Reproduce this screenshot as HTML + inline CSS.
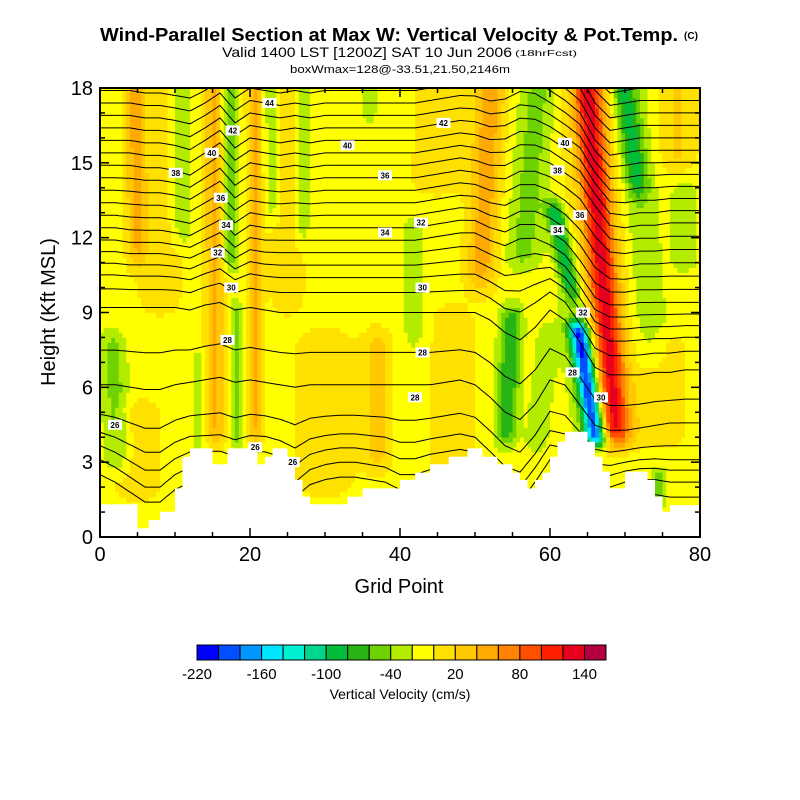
<!DOCTYPE html>
<html><head><meta charset="utf-8"><style>
html,body{margin:0;padding:0;background:#fff;}
svg{display:block;font-family:"Liberation Sans",Arial,sans-serif;}
</style></head><body>
<svg id="chart" width="800" height="800" viewBox="0 0 800 800" xmlns="http://www.w3.org/2000/svg">
<rect width="800" height="800" fill="#fff"/>
<text x="389" y="41" text-anchor="middle" font-size="18" font-weight="bold" textLength="578" lengthAdjust="spacingAndGlyphs">Wind-Parallel Section at Max W: Vertical Velocity &amp; Pot.Temp.</text>
<text x="691" y="39" text-anchor="middle" font-size="10" font-weight="bold">(C)</text>
<text x="367" y="57" text-anchor="middle" font-size="14" textLength="290" lengthAdjust="spacingAndGlyphs">Valid 1400 LST [1200Z] SAT 10 Jun 2006</text>
<text x="546" y="56" text-anchor="middle" font-size="8" textLength="62" lengthAdjust="spacingAndGlyphs">(18hrFcst)</text>
<text x="400" y="73" text-anchor="middle" font-size="11" textLength="220" lengthAdjust="spacingAndGlyphs">boxWmax=128@-33.51,21.50,2146m</text>
<defs><clipPath id="plotClip"><rect x="100" y="88" width="600" height="449"/></clipPath></defs>
<g id="field" clip-path="url(#plotClip)"></g>
<g id="contours" clip-path="url(#plotClip)"></g>
<g id="terrain"></g>
<g id="clabels"></g>
<g id="axes"></g>
<g id="cbar"></g>
</svg>
<script>
// ---- data ----
const colorLevels = ['#0000ff','#0050ff','#0096ff','#00e6ff','#00f0d2','#00d78c','#00be3c','#28b414','#6ed200','#b4ec00','#ffff00','#ffe100','#ffc800','#ffaa00','#ff8200','#ff5000','#ff2000','#e6001e','#b40040'];
const cbarTickValues = [-220,-160,-100,-40,20,80,140];
const xTickValues = [0,20,40,60,80];
const yTickValues = [0,3,6,9,12,15,18];
const baseW = -8;
// tilted velocity bands: x at y0, x at y1, amplitude (cm/s), half-width (grid), taper (kft)
const featX0 = [2.5,5,5,8,11,15.5,17.5,18.5,20.7,23,25,27,13,30,37,42,36,47,45,50.5,56,54,58,66.5,63.5,66,69,69,72.2,74,78,75,74.5,77];
const featY0 = [2,1,10,8,11,3,10,3,3,12,8,11,3,1,2,7,16,1,13,9,10,3,3,3.3,9,3.3,3,3,13,6,10,3,1,14];
const featX1 = [1.5,5,4.5,8,10.5,15,17.3,18,20.5,22.8,25,27.2,13,30,37,41.5,36,47,46,52.5,59,55,60,63.5,60,63,64.5,64.5,68.8,70,78,75,74.5,77];
const featY1 = [9,6,20,20,20,20,20,10,20,20,20,20,8,9,9,13.5,20,10,20,20,20,10,9,9,14,10,20,20,20,20,15,9,3,20];
const featAmp = [-40,20,50,20,-30,50,-55,-35,50,-30,20,-30,-28,22,35,-32,-25,20,18,60,-40,-70,-30,-170,-90,-40,95,45,-55,-30,-30,25,-35,30];
const featW = [1.8,3,1.3,3,1.5,1.3,1.0,0.9,1.0,1.0,2.4,1.0,0.8,4,1.8,1.3,0.9,3,4,2.0,2.4,1.5,1.5,1.3,1.3,2.4,1.8,3.2,1.5,2.4,1.8,3,1.0,2.4];
const featTaper = [1.5,1,2,2,1.5,1.5,1.5,1,1.5,1.5,2,1.5,1,1.5,1.5,1.5,1,1.5,1.5,2,1.5,1.5,1,0.8,1.2,1,1.5,1.5,1.5,1.5,1.5,1.5,0.5,1.5];
// terrain steps (grid start, kft)
const terrainX = [0,5,6.5,8,10,11,12,15,17,21,22,23,25,26,27,28,33,35,40,42,44,46.5,49,51,53,55,56,57,58,59,60,61,62,65,66,67,68,70,73,74,75,76];
const terrainH = [1.31,0.35,0.68,1.01,1.95,3.22,3.55,2.92,3.55,2.92,3.22,3.55,3.22,2.29,1.62,1.31,1.62,1.95,2.29,2.58,2.92,3.22,3.55,3.22,2.92,2.58,2.29,1.95,2.29,2.58,3.22,3.82,4.22,3.82,3.22,2.62,1.95,2.62,2.29,1.62,1.01,1.28];
// potential temperature contours: base heights (kft) and displacement table (cols every 2 grid pts)
const thetaBase = [2.2,2.8,3.4,4.0,4.8,6.1,7.4,9.0,9.8,10.4,10.9,11.4,11.9,12.4,12.9,13.4,13.9,14.4,14.9,15.4,15.9,16.4,16.9,17.4,17.9,18.4,18.9,19.4,19.9,20.4,20.9];
const dispRowHeights = [0,3,6,9,12,15,18,21];
const disp3 = [0.3,0,-0.4,-0.8,-0.8,-0.3,0,0,0,-0.2,0,0,-0.2,-0.6,-0.1,0.1,0.2,0.2,0.1,0,-0.3,-0.3,-0.1,0,0.1,0,-0.6,-1.2,-1.4,-0.6,0.3,0.2,-0.3,-0.8,-0.8,-0.6,-0.5,-0.5,-0.6,-0.6,-0.6];
const disp6 = [0,0,-0.1,-0.2,-0.2,0,0.1,0.2,0.3,0.1,0.2,0.1,0,-0.1,0,0,0,0,0,0,0,0,0,0.1,0.2,0,-0.5,-1.1,-1.4,-0.8,0.2,0,-0.8,-1.6,-1.8,-1.8,-1.7,-1.6,-1.5,-1.5,-1.5];
const disp9 = [0.2,0.2,0.2,0.2,0.2,0.2,0.1,0.3,0.4,0.1,0.2,0.1,0,0,0,0,0,0,0,0,0,0,0,0,0,0,-0.3,-0.8,-1.1,-0.6,0.1,-0.3,-1.2,-2.2,-2.5,-2.5,-2.5,-2.4,-2.4,-2.3,-2.3];
const disp12 = [0,0,-0.1,-0.1,-0.1,-0.2,-0.3,0,0.3,-0.3,0.1,0,0,0,0,0,0,0,0,0,0,0,0.1,0.2,0.3,0.3,0,-0.2,0.1,0.1,-0.2,-0.6,-1.4,-2.3,-2.6,-2.6,-2.5,-2.5,-2.5,-2.5,-2.5];
const disp15 = [0,0,0,-0.1,-0.1,-0.2,-0.4,0,0.4,-0.3,0.1,0,-0.1,0,-0.1,0,0,0,0,0,0,0,0.1,0.2,0.3,0.2,0,0,0.3,0.3,0.1,-0.3,-0.7,-1.6,-2.4,-2.5,-2.4,-2.4,-2.3,-2.3,-2.3];
const disp18 = [0,0,0,-0.1,-0.1,-0.2,-0.3,0,0.4,-0.3,0.1,0,-0.1,0,-0.1,0,0,0,0,0,0,0,0.1,0.2,0.3,0.3,0.1,0.2,0.5,0.4,0,-0.4,-0.9,-2.0,-2.6,-2.5,-2.4,-2.4,-2.4,-2.4,-2.4];
const contourLabelText = ['44','42','40','38','36','34','32','30','28','26','26','26','42','40','36','34','32','30','28','28','40','38','36','34','32','28','30'];
const contourLabelGX = [22.6,17.7,14.9,10.1,16.1,16.8,15.7,17.5,17,2,20.7,25.7,45.8,33,38,38,42.8,43,43,42,62,61,64,61,64.4,63,66.8];
const contourLabelH = [17.4,16.3,15.4,14.6,13.6,12.5,11.4,10.0,7.9,4.5,3.6,3.0,16.6,15.7,14.5,12.2,12.6,10.0,7.4,5.6,15.8,14.7,12.9,12.3,9.0,6.6,5.6];

// ---- scales ----
const X = g => 100 + g * 7.5;
const Y = h => 537 - h * (449 / 18);
const NS = 'http://www.w3.org/2000/svg';
function mk(tag, attrs, parent) { const e = document.createElementNS(NS, tag); for (const k in attrs) e.setAttribute(k, attrs[k]); if (parent) parent.appendChild(e); return e; }
function ss(t) { t = Math.max(0, Math.min(1, t)); return t * t * (3 - 2 * t); }
function wAt(x, y) {
  let v = baseW;
  for (let k = 0; k < featAmp.length; k++) {
    const y0 = featY0[k], y1 = featY1[k];
    if (y < y0 - 0.01 || y > y1 + 0.01) continue;
    const f = (y - y0) / (y1 - y0);
    const xc = featX0[k] + (featX1[k] - featX0[k]) * f;
    const tp = featTaper[k];
    const tap = ss((y - y0) / tp) * ss((y1 - y) / tp);
    const d = (x - xc) / featW[k];
    v += featAmp[k] * Math.exp(-d * d) * tap;
  }
  return v;
}
function colorIndex(v) { return Math.max(0, Math.min(18, Math.floor((v + 220) / 20))); }

// ---- field ----
const field = document.getElementById('field');
const dx = 0.5, dy = 0.2;
for (let j = 0; j < 18 / dy; j++) {
  const yc = (j + 0.5) * dy;
  let runStart = 0, runIdx = colorIndex(wAt(0.25, yc));
  for (let i = 1; i <= 80 / dx; i++) {
    const idx = i < 80 / dx ? colorIndex(wAt((i + 0.5) * dx, yc)) : -1;
    if (idx !== runIdx) {
      const r = mk('rect', {x: X(runStart * dx).toFixed(2), y: Y((j + 1) * dy).toFixed(2), width: (X(i * dx) - X(runStart * dx) + 0.4).toFixed(2), height: (Y(j * dy) - Y((j + 1) * dy) + 0.4).toFixed(2), fill: colorLevels[runIdx]}, field);
      
      
      runStart = i; runIdx = idx;
    }
  }
}

// ---- contours ----
const dispRows = [disp3, disp3, disp6, disp9, disp12, disp15, disp18, disp18];
function dispAt(x, z) {
  const fc = Math.min(39.999, x / 2), c0 = Math.floor(fc), tc = fc - c0;
  let r0 = 0;
  while (r0 < dispRowHeights.length - 2 && z > dispRowHeights[r0 + 1]) r0++;
  const tr = Math.max(0, Math.min(1, (z - dispRowHeights[r0]) / (dispRowHeights[r0 + 1] - dispRowHeights[r0])));
  const a = dispRows[r0][c0] * (1 - tc) + dispRows[r0][c0 + 1] * tc;
  const b = dispRows[r0 + 1][c0] * (1 - tc) + dispRows[r0 + 1][c0 + 1] * tc;
  return a * (1 - tr) + b * tr;
}
const cg = document.getElementById('contours');
thetaBase.forEach(z0 => {
  let pts = [];
  for (let x = 0; x <= 80.001; x += 0.25) pts.push(X(x).toFixed(1) + ',' + Y(z0 + dispAt(x, z0)).toFixed(1));
  const pl = mk('polyline', {points: pts.join(' '), fill: 'none', stroke: '#000', 'stroke-width': 1}, cg);
  
  
});

// ---- terrain ----
let tp = [X(0) + ',' + Y(0)];
terrainX.forEach((x, i) => {
  const xe = i < terrainX.length - 1 ? terrainX[i + 1] : 80;
  tp.push(X(x) + ',' + Y(terrainH[i]).toFixed(1));
  tp.push(X(xe) + ',' + Y(terrainH[i]).toFixed(1));
});
tp.push(X(80) + ',' + Y(0));
const terr = mk('polygon', {points: tp.join(' '), fill: '#fff'}, document.getElementById('terrain'));



// ---- contour labels ----
const clg = document.getElementById('clabels');
contourLabelText.forEach((t, i) => {
  const cx = X(contourLabelGX[i]), cy = Y(contourLabelH[i]);
  const g = mk('g', {}, clg);
  
  
  mk('rect', {x: cx - 7, y: cy - 5, width: 14, height: 10, fill: '#fff'}, g);
  const tx = mk('text', {x: cx, y: cy + 3, 'text-anchor': 'middle', 'font-size': 8, 'font-weight': 'bold'}, g);
  tx.textContent = t;
});

// ---- axes ----
const ax = document.getElementById('axes');
const frame = mk('rect', {x: 100, y: 88, width: 600, height: 449, fill: 'none', stroke: '#000', 'stroke-width': 2}, ax);


for (let h = 0; h <= 18; h++) {
  const L = h % 3 === 0 ? 9 : 5;
  mk('line', {x1: 100, x2: 100 + L, y1: Y(h), y2: Y(h), stroke: '#000', 'stroke-width': 1.5}, ax);
  mk('line', {x1: 700, x2: 700 - L, y1: Y(h), y2: Y(h), stroke: '#000', 'stroke-width': 1.5}, ax);
}
for (let g = 0; g <= 80; g += 5) {
  const L = g % 20 === 0 ? 9 : 5;
  mk('line', {x1: X(g), x2: X(g), y1: 537, y2: 537 - L, stroke: '#000', 'stroke-width': 1.5}, ax);
  mk('line', {x1: X(g), x2: X(g), y1: 88, y2: 88 + L, stroke: '#000', 'stroke-width': 1.5}, ax);
}
yTickValues.forEach(v => {
  const t = mk('text', {x: 93, y: Y(v) + 7, 'text-anchor': 'end', 'font-size': 20}, ax);
  
  
  t.textContent = v;
});
xTickValues.forEach(v => {
  const t = mk('text', {x: X(v), y: 561, 'text-anchor': 'middle', 'font-size': 20}, ax);
  
  
  t.textContent = v;
});
const xt = mk('text', {x: 399, y: 593, 'text-anchor': 'middle', 'font-size': 20}, ax);


xt.textContent = 'Grid Point';
const yt = mk('text', {x: 0, y: 0, 'text-anchor': 'middle', 'font-size': 20, transform: 'translate(55,312) rotate(-90)'}, ax);


yt.textContent = 'Height (Kft MSL)';

// ---- colorbar ----
const cb = document.getElementById('cbar');
const cbX = v => 197 + (v + 220) / 20 * (409 / 19);
colorLevels.forEach((c, k) => {
  const r = mk('rect', {x: cbX(-220 + 20 * k), y: 645, width: 409 / 19, height: 15, fill: c, stroke: '#000', 'stroke-width': 1}, cb);
  
  
});
cbarTickValues.forEach(v => {
  const t = mk('text', {x: cbX(v), y: 679, 'text-anchor': 'middle', 'font-size': 15}, cb);
  
  
  t.textContent = v;
});
const ct = mk('text', {x: 400, y: 699, 'text-anchor': 'middle', 'font-size': 14}, cb);


ct.textContent = 'Vertical Velocity (cm/s)';
</script>
</body></html>
